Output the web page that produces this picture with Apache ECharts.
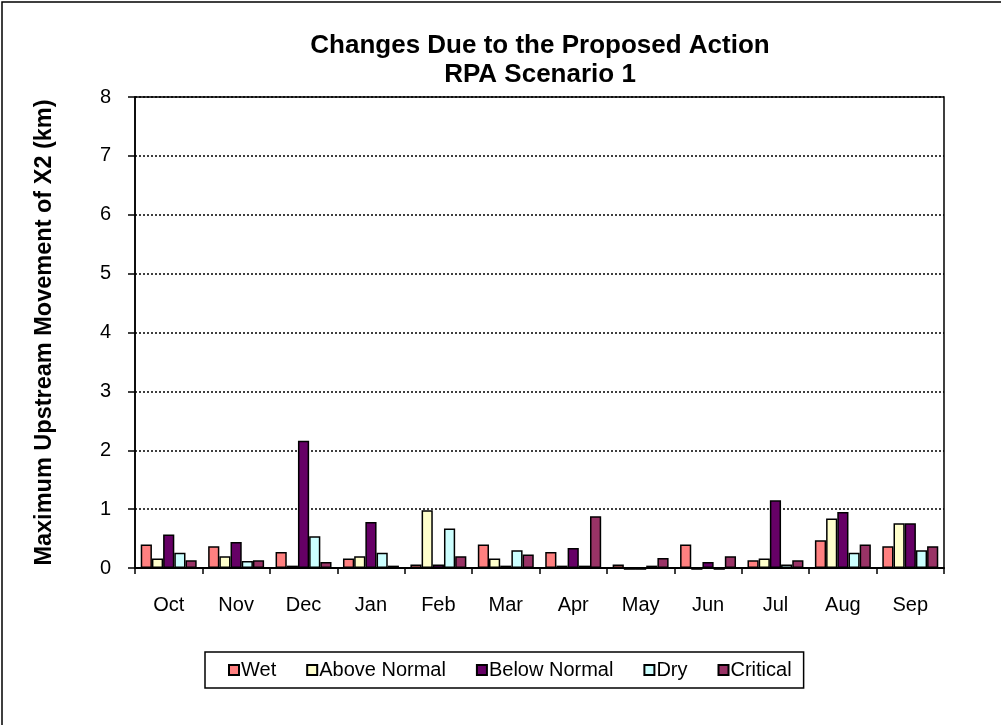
<!DOCTYPE html>
<html>
<head>
<meta charset="utf-8">
<script src="https://cdn.jsdelivr.net/npm/echarts@6/dist/echarts.min.js"></script>
<style>
  html, body { margin: 0; padding: 0; background: #fff; }
  #chart { width: 1001px; height: 725px; }
</style>
</head>
<body>
<div id="chart"></div>
<script>
// Months of the water year
const months = ['Oct', 'Nov', 'Dec', 'Jan', 'Feb', 'Mar', 'Apr', 'May', 'Jun', 'Jul', 'Aug', 'Sep'];

// Maximum upstream movement of X2 (km) by water-year type
const wet         = [0.40, 0.37, 0.27, 0.16, 0.06, 0.40, 0.27, 0.06, 0.40, 0.13, 0.47, 0.37];
const aboveNormal = [0.16, 0.20, 0.04, 0.20, 0.98, 0.16, 0.04, -0.03, -0.03, 0.16, 0.84, 0.76];
const belowNormal = [0.57, 0.44, 2.16, 0.78, 0.06, 0.04, 0.34, -0.03, 0.10, 1.15, 0.95, 0.76];
const dry         = [0.26, 0.12, 0.54, 0.26, 0.67, 0.30, 0.04, 0.04, -0.03, 0.06, 0.26, 0.30];
const critical    = [0.13, 0.13, 0.10, 0.04, 0.20, 0.23, 0.88, 0.17, 0.20, 0.13, 0.40, 0.37];

const seriesNames = ['Wet', 'Above Normal', 'Below Normal', 'Dry', 'Critical'];
const seriesData = [wet, aboveNormal, belowNormal, dry, critical];
const seriesColors = ['#FF8080', '#FFFFCC', '#660066', '#CCFFFF', '#993366'];

const FONT = '"Liberation Sans", Arial, sans-serif';

const chart = echarts.init(document.getElementById('chart'), null, { renderer: 'canvas' });

chart.setOption({
  animation: false,
  backgroundColor: '#ffffff',
  textStyle: { fontFamily: FONT, color: '#000' },
  title: {
    text: 'Changes Due to the Proposed Action\nRPA Scenario 1',
    left: 540,
    top: 31,
    textAlign: 'center',
    padding: 0,
    textStyle: {
      fontFamily: FONT,
      fontSize: 26,
      fontWeight: 'bold',
      color: '#000',
      lineHeight: 29
    }
  },
  grid: {
    left: 135,
    right: 57,
    top: 97,
    bottom: 157,
    show: true,
    borderColor: '#000',
    borderWidth: 1.5,
    backgroundColor: '#fff'
  },
  legend: {
    data: seriesNames,
    left: 205,
    top: 652,
    width: 620,
    padding: [8, 12, 8, 23],
    itemGap: 30,
    itemWidth: 10,
    itemHeight: 10,
    icon: 'rect',
    borderColor: '#000',
    borderWidth: 1.5,
    textStyle: { fontFamily: FONT, fontSize: 20, color: '#000', padding: [0, 0, 0, -3] }
  },
  xAxis: {
    type: 'category',
    data: months,
    boundaryGap: true,
    axisLine: { show: true, lineStyle: { color: '#000', width: 2 } },
    axisTick: { show: true, alignWithLabel: false, length: 6, lineStyle: { color: '#000', width: 1.5 } },
    axisLabel: { fontFamily: FONT, fontSize: 20, color: '#000', margin: 27 },
    splitLine: { show: false }
  },
  yAxis: {
    type: 'value',
    min: 0,
    max: 8,
    interval: 1,
    name: 'Maximum Upstream Movement of X2 (km)',
    nameLocation: 'middle',
    nameRotate: 90,
    nameGap: 78,
    nameTextStyle: { fontFamily: FONT, fontSize: 23.5, fontWeight: 'bold', color: '#000' },
    axisLine: { show: true, lineStyle: { color: '#000', width: 1.5 } },
    axisTick: { show: true, length: 7, lineStyle: { color: '#000', width: 1.5 } },
    axisLabel: { fontFamily: FONT, fontSize: 20, color: '#000', margin: 24 },
    splitLine: { show: true, lineStyle: { color: '#000', width: 1.5, type: [2, 2] } }
  },
  series: seriesNames.map((name, i) => ({
    name: name,
    type: 'bar',
    data: seriesData[i],
    barGap: '0%',
    barCategoryGap: '17%',
    clip: false,
    itemStyle: { color: seriesColors[i], borderColor: '#000', borderWidth: 1.5 }
  })),
  graphic: [
    {
      type: 'rect',
      shape: { x: 2, y: 2, width: 1020, height: 760 },
      style: { fill: null, stroke: '#000', lineWidth: 1.5 },
      z: 100,
      silent: true
    }
  ]
});
</script>
</body>
</html>
